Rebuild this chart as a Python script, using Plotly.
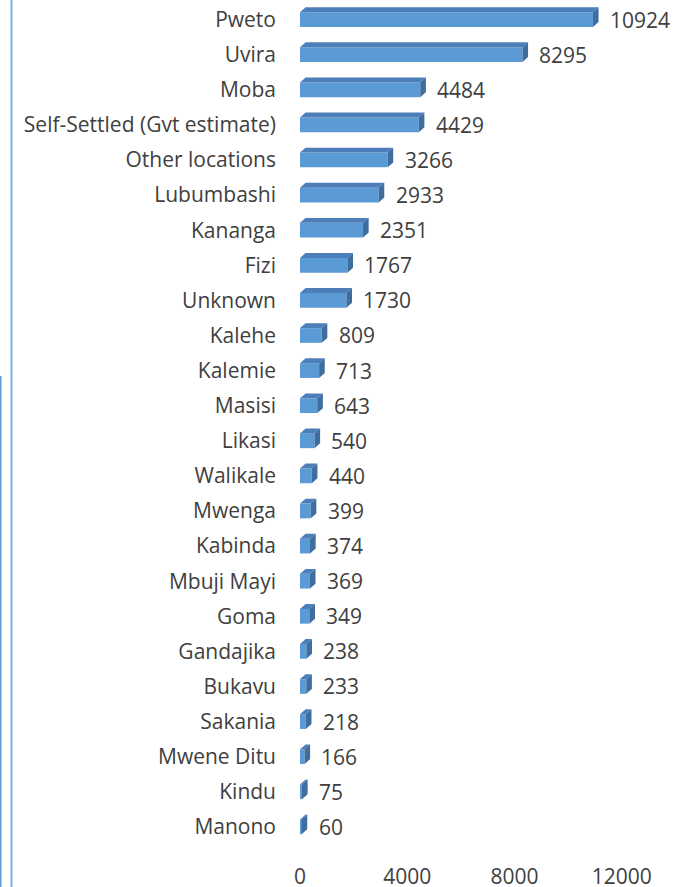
import plotly.graph_objects as go

locations = [
    "Pweto", "Uvira", "Moba", "Self-Settled (Gvt estimate)", "Other locations",
    "Lubumbashi", "Kananga", "Fizi", "Unknown", "Kalehe", "Kalemie", "Masisi",
    "Likasi", "Walikale", "Mwenga", "Kabinda", "Mbuji Mayi", "Goma", "Gandajika",
    "Bukavu", "Sakania", "Mwene Ditu", "Kindu", "Manono",
]
counts = [
    10924, 8295, 4484, 4429, 3266, 2933, 2351, 1767, 1730, 809, 713, 643,
    540, 440, 399, 374, 369, 349, 238, 233, 218, 166, 75, 60,
]
x_ticks = [0, 4000, 8000, 12000]

_FRONT = "#5B9BD5"
_TOP = "#4C7EB9"
_SIDE = "#3F6D9E"
_TEXT = "#404040"
_FONT = "Open Sans, sans-serif"
_SIZE = 21

bar_half = 0.21
depth_x = 210
depth_y = 0.14

rows = list(range(len(locations)))

fig = go.Figure()
fig.add_trace(
    go.Bar(
        x=counts,
        y=rows,
        orientation="h",
        width=bar_half * 2,
        marker_color=_FRONT,
        marker_line_width=0,
        hoverinfo="x",
    )
)

# fake 3D: top face and right side face for each bar
for row, value in zip(rows, counts):
    y_top = row - bar_half
    y_bot = row + bar_half
    top_path = (
        f"M 0 {y_top} L {value} {y_top} L {value + depth_x} {y_top - depth_y} "
        f"L {depth_x} {y_top - depth_y} Z"
    )
    side_path = (
        f"M {value} {y_top} L {value} {y_bot} L {value + depth_x} {y_bot - depth_y} "
        f"L {value + depth_x} {y_top - depth_y} Z"
    )
    fig.add_shape(type="path", path=top_path, xref="x", yref="y",
                  fillcolor=_TOP, line_width=0)
    fig.add_shape(type="path", path=side_path, xref="x", yref="y",
                  fillcolor=_SIDE, line_width=0)
    fig.add_annotation(
        x=value, y=row, xref="x", yref="y", text=str(value),
        showarrow=False, xanchor="left", xshift=15,
        font={"color": _TEXT, "size": _SIZE, "family": _FONT},
    )

# border lines left over from the document crop
fig.add_shape(type="line", xref="paper", yref="paper",
              x0=-288.5 / 362, x1=-288.5 / 362, y0=-0.05, y1=1.01,
              line={"color": "#7FB2E0", "width": 2})
fig.add_shape(type="line", xref="paper", yref="paper",
              x0=-299.5 / 362, x1=-299.5 / 362, y0=-0.05, y1=0.565,
              line={"color": "#5B9BD5", "width": 2})

fig.update_layout(
    width=674,
    height=887,
    margin=dict(l=300, r=12, t=2, b=25, autoexpand=False),
    plot_bgcolor="white",
    paper_bgcolor="white",
    font={"color": _TEXT, "family": _FONT, "size": _SIZE},
    showlegend=False,
)
fig.update_xaxes(
    range=[0, 13500],
    tickmode="array",
    tickvals=x_ticks,
    ticktext=[str(t) for t in x_ticks],
    showgrid=False,
    showline=False,
    zeroline=False,
    ticks="",
    automargin=False,
    ticklabeloverflow="allow",
    tickfont={"size": _SIZE, "color": _TEXT},
)
fig.update_yaxes(
    range=[24.0, -0.5],
    tickmode="array",
    tickvals=rows,
    ticktext=locations,
    showgrid=False,
    showline=False,
    zeroline=False,
    ticks="",
    automargin=False,
    ticklabeloverflow="allow",
    ticklabelstandoff=23,
    tickfont={"size": _SIZE, "color": _TEXT},
)

# drop the browser's default 8px body margin so the figure fills the window
fig.write_html(
    "out.html",
    config={"displayModeBar": False},
    post_script="document.body.style.margin='0';document.body.style.overflow='hidden';",
)
